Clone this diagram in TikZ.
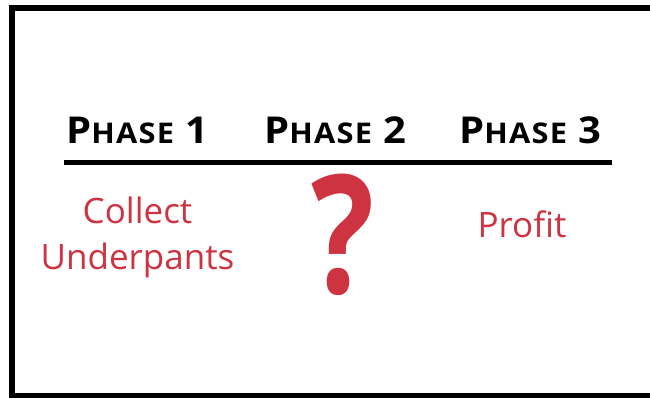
\documentclass[tikz,border=0pt]{standalone}
\usepackage{fontspec}
\setmainfont{Open Sans}
\newfontfamily\headfont{Open Sans}[LetterSpace=4]
\usetikzlibrary{positioning}
\definecolor{PLANred}{HTML}{CD3340}
\newcommand{\phasehead}[1]{\scalebox{1.08}[1]{{\fontsize{37}{40}\selectfont P}{\fontsize{28.5}{30}\selectfont HASE}\hspace{11pt}{\fontsize{37}{40}\selectfont #1}}}
\tikzset{headbox/.style={font=\headfont\bfseries,anchor=base,inner sep=0pt},
 planbox/.style={text=PLANred,font=\fontsize{35}{46}\selectfont,align=center,inner sep=0pt}}

\begin{document}
\begin{tikzpicture}[x=1pt,y=1pt]
\useasboundingbox (0,0) rectangle (650,397);
\draw[line width=6pt] (12,1) rectangle (656,389);
% headings
\node[headbox] (phaseone) at (137.5,254) {\phasehead{1}};
\node[headbox] (phasetwo) at (335.5,254) {\phasehead{2}};
\node[headbox] (phasethree) at (530.5,254) {\phasehead{3}};
\coordinate (ruleL) at (64,234.5);
\coordinate (ruleR) at (612,234.5);
\draw[line width=5pt] (ruleL) -- (ruleR);
% what happens in each phase
\node[planbox,anchor=base,font=\bfseries\fontsize{165}{165}\selectfont] (unknown) at (342.7,104) {\scalebox{0.8}[1]{?}};
\node[planbox,anchor=base] (collect) at (137.5,128) {Collect\\Underpants};
\node[planbox,anchor=base] (profit) at (522,159.3) {Profit};
\end{tikzpicture}
\end{document}
